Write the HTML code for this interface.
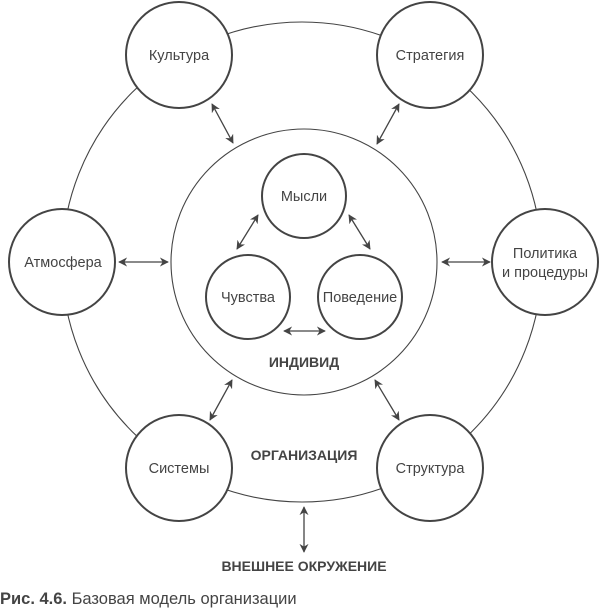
<!DOCTYPE html>
<html><head><meta charset="utf-8"><style>
html,body{margin:0;padding:0;background:#fff;}
svg{display:block;}
text{font-family:"Liberation Sans","DejaVu Sans",sans-serif;fill:#444;}
</style></head><body>
<svg width="600" height="609" viewBox="0 0 600 609" xmlns="http://www.w3.org/2000/svg">
<defs>
<marker id="a" viewBox="0 0 10 10" refX="9" refY="5" markerWidth="9" markerHeight="9" markerUnits="userSpaceOnUse" orient="auto-start-reverse">
<path d="M0,0 L10,5 L0,10 L3,5 z" fill="#444"/>
</marker>
</defs>
<g fill="none" stroke="#444">
<circle cx="302" cy="262" r="240" stroke-width="1.1"/>
<circle cx="304" cy="262" r="133" stroke-width="1.1"/>
</g>
<g fill="#fff" stroke="#444" stroke-width="2">
<circle cx="179" cy="55" r="53"/>
<circle cx="430" cy="55" r="53"/>
<circle cx="62" cy="262" r="53"/>
<circle cx="545" cy="262" r="53"/>
<circle cx="179" cy="468" r="53"/>
<circle cx="430" cy="468" r="53"/>
<circle cx="304" cy="196" r="42"/>
<circle cx="248" cy="297" r="42"/>
<circle cx="360" cy="297" r="42"/>
</g>
<g stroke="#444" stroke-width="1.3" marker-start="url(#a)" marker-end="url(#a)">
<line x1="212" y1="104" x2="233" y2="143"/>
<line x1="399" y1="104" x2="377" y2="144"/>
<line x1="119" y1="262" x2="168" y2="262"/>
<line x1="442" y1="262" x2="490" y2="262"/>
<line x1="258" y1="215" x2="237" y2="249"/>
<line x1="349" y1="215" x2="370" y2="249"/>
<line x1="284" y1="331" x2="325" y2="331"/>
<line x1="232" y1="380" x2="210" y2="420"/>
<line x1="375" y1="380" x2="399" y2="420"/>
<line x1="304" y1="507" x2="304" y2="552"/>
</g>
<g font-size="14.5" text-anchor="middle">
<text x="179" y="60">Культура</text>
<text x="430" y="60">Стратегия</text>
<text x="63" y="267">Атмосфера</text>
<text x="545" y="258">Политика</text>
<text x="545" y="277">и процедуры</text>
<text x="179" y="473">Системы</text>
<text x="430" y="473">Структура</text>
<text x="304" y="201">Мысли</text>
<text x="248" y="302">Чувства</text>
<text x="360" y="302">Поведение</text>
<g font-weight="bold" font-size="14">
<text x="304" y="367">ИНДИВИД</text>
<text x="304" y="460">ОРГАНИЗАЦИЯ</text>
<text x="304" y="571">ВНЕШНЕЕ ОКРУЖЕНИЕ</text>
</g>
</g>
<text x="0" y="604" font-size="16.5"><tspan font-weight="bold">Рис. 4.6.</tspan>  Базовая модель организации</text>
</svg>
</body></html>
